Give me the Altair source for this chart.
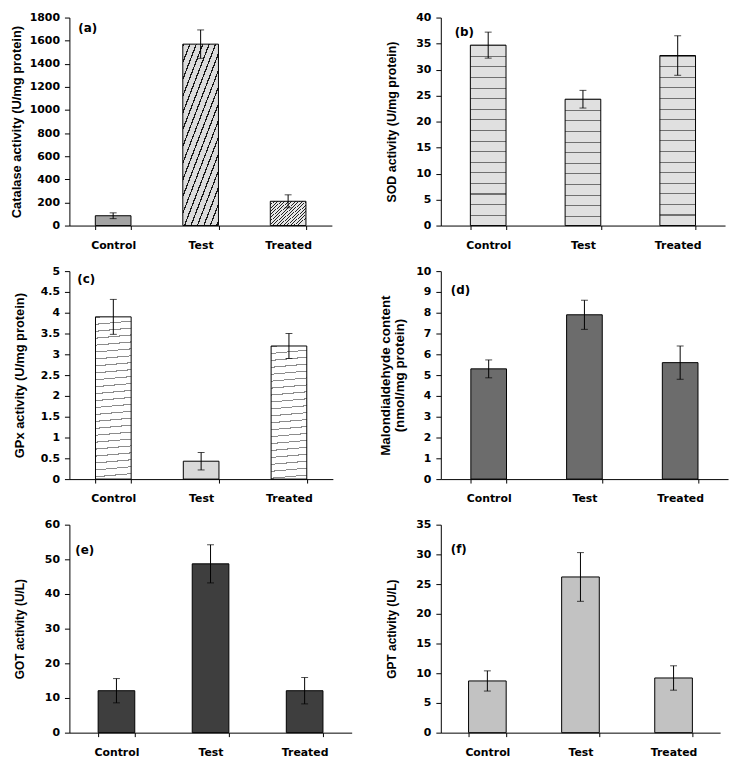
import altair as alt
import pandas as pd

categories = ["Control", "Test", "Treated"]

catalase = [85, 1570, 210]
catalase_err = [25, 123, 56]
sod = [34.7, 24.3, 32.7]
sod_err = [2.5, 1.7, 3.8]
gpx = [3.9, 0.43, 3.2]
gpx_err = [0.42, 0.21, 0.3]
mda = [5.3, 7.9, 5.6]
mda_err = [0.43, 0.7, 0.8]
got = [12.1, 48.7, 12.1]
got_err = [3.5, 5.5, 3.8]
gpt = [8.7, 26.2, 9.2]
gpt_err = [1.7, 4.1, 2.05]

ticks_a = [0, 200, 400, 600, 800, 1000, 1200, 1400, 1600, 1800]
ticks_b = [0, 5, 10, 15, 20, 25, 30, 35, 40]
ticks_c = [0, 0.5, 1, 1.5, 2, 2.5, 3, 3.5, 4, 4.5, 5]
ticks_d = [0, 1, 2, 3, 4, 5, 6, 7, 8, 9, 10]
ticks_e = [0, 10, 20, 30, 40, 50, 60]
ticks_f = [0, 5, 10, 15, 20, 25, 30, 35]

LFONT = "DejaVu Sans"
TFONT = "Liberation Sans"
H = 210


def stripes(w, h, slope, period, frac, dark, light):
    """Linear-gradient hatch in bbox units.  slope=None -> horizontal lines
    (period measured vertically); otherwise period is the horizontal spacing
    and slope is the rise per px of x.  frac is the dark share of a period."""
    if slope is None:
        x2, y2 = 0.0, 1.0
        n = h / period
    else:
        x2 = 1.0
        y2 = h / (slope * w)
        n = w * (1 + y2 * y2) / period
    tmax = min((x2 + y2) / (x2 * x2 + y2 * y2), 1.0)
    stops = []
    k = 0
    while k / n <= tmax + 1.0 / n and k < 3000:
        a = k / n
        if a > 1:
            break
        b = min((k + frac) / n, 1)
        c = min((k + 1) / n, 1)
        stops += [(a, dark), (b, dark), (b, light), (c, light)]
        k += 1
    return {
        "gradient": "linear", "x1": 0, "y1": 0, "x2": x2, "y2": y2,
        "stops": [{"offset": round(o, 5), "color": col} for o, col in stops],
    }


def panel(values, errors, fills, ticks, fmt, title, tsize, tpad, width,
          bar_w, letter, lx, ly):
    df = pd.DataFrame({
        "cat": categories,
        "val": values,
        "lo": [v - e for v, e in zip(values, errors)],
        "hi": [v + e for v, e in zip(values, errors)],
    })
    hpx = [v / ticks[-1] * H for v in values]
    df["fill"] = [f(bar_w, hp) if callable(f) else f for f, hp in zip(fills, hpx)]
    pi = 1 - bar_w / (width / 3.0)
    xscale = alt.Scale(paddingInner=pi, paddingOuter=pi / 2)
    xaxis = alt.Axis(title=None, labelAngle=0, tickBand="extent",
                     tickSize=4, labelPadding=10)
    yscale = alt.Scale(domain=[ticks[0], ticks[-1]], nice=False)
    yaxis = alt.Axis(values=ticks, format=fmt, title=title,
                     titleFontSize=tsize, titlePadding=tpad,
                     titleLineHeight=15, grid=False, tickSize=5,
                     labelPadding=5, minExtent=0, labelOverlap=False)

    def xe():
        return alt.X("cat:N", sort=categories, scale=xscale, axis=xaxis)

    def ye(field):
        return alt.Y(field, scale=yscale, axis=yaxis, title=title)

    base = alt.Chart(df)
    bars = base.mark_bar(stroke="black", strokeWidth=1).encode(
        x=xe(), y=ye("val:Q"),
        color=alt.Color("fill:N", scale=None),
    )
    rule = base.mark_rule(color="black", strokeWidth=1).encode(
        x=xe(), y=ye("lo:Q"), y2="hi:Q")
    caps = base.transform_fold(["lo", "hi"]).mark_tick(
        color="black", thickness=1, size=7).encode(
        x=xe(), y=ye("value:Q"))
    lab = alt.Chart(pd.DataFrame({"t": [letter]})).mark_text(
        font=LFONT, fontSize=12, fontWeight="bold", align="left",
        baseline="middle", color="black").encode(
        text="t:N", x=alt.value(lx), y=alt.value(ly))
    return alt.layer(bars, rule, caps, lab).properties(width=width, height=H)


def hatch_test(w, h):
    return stripes(w, h, 2.6, 6.5, 0.2, "#1a1a1a", "#dcdcdc")


def hatch_treated(w, h):
    return stripes(w, h, 0.9, 3.6, 0.28, "#222222", "#e6e6e6")


def hlines(w, h):
    return stripes(w, h, 0.09, 7.0 / 0.09, 0.15, "#8c8c8c", "#ffffff")


def sod_rows(w, h):
    return stripes(w, h, None, 10.7, 0.1, "#707070", "#e0e0e0")


pa = panel(catalase, catalase_err, ["#a3a3a3", hatch_test, hatch_treated],
           ticks_a, "d", "Catalase activity (U/mg protein)", 13, 6,
           265, 36, "(a)", 9, 11)
pb = panel(sod, sod_err, [sod_rows, sod_rows, sod_rows],
           ticks_b, "d", "SOD activity (U/mg protein)", 12.5, 17.5,
           287, 36, "(b)", 14, 15)
pc = panel(gpx, gpx_err, [hlines, "#d9d9d9", hlines],
           ticks_c, ".1~f", "GPx activity (U/mg protein)", 13, 14,
           266, 36, "(c)", 8, 8)
pd_ = panel(mda, mda_err, ["#6c6c6c", "#6c6c6c", "#6c6c6c"],
            ticks_d, "d", ["Malondialdehyde content", "(nmol/mg protein)"],
            13.5, 9, 290, 36, "(d)", 10, 19)
pe = panel(got, got_err, ["#3e3e3e", "#3e3e3e", "#3e3e3e"],
           ticks_e, "d", "GOT activity (U/L)", 12, 18,
           285, 37, "(e)", 6, 26)
pf = panel(gpt, gpt_err, ["#c2c2c2", "#c2c2c2", "#c2c2c2"],
           ticks_f, "d", "GPT activity (U/L)", 12, 17,
           282, 38, "(f)", 10, 25)

chart = alt.concat(
    pa, pb, pc, pd_, pe, pf, columns=2,
    spacing={"row": 46, "column": 90}, bounds="flush",
).properties(
    padding={"left": 2, "top": 0, "right": 4, "bottom": 4},
).configure_view(strokeWidth=0).configure_axis(
    domainColor="black", tickColor="black", labelColor="black",
    titleColor="black", labelFont=LFONT, titleFont=TFONT,
    labelFontSize=11, labelFontWeight="bold", titleFontWeight="bold",
    domainWidth=1, tickWidth=1, labelOverlap=False,
)

chart.save("out.html", embed_options={"renderer": "svg", "actions": False})
